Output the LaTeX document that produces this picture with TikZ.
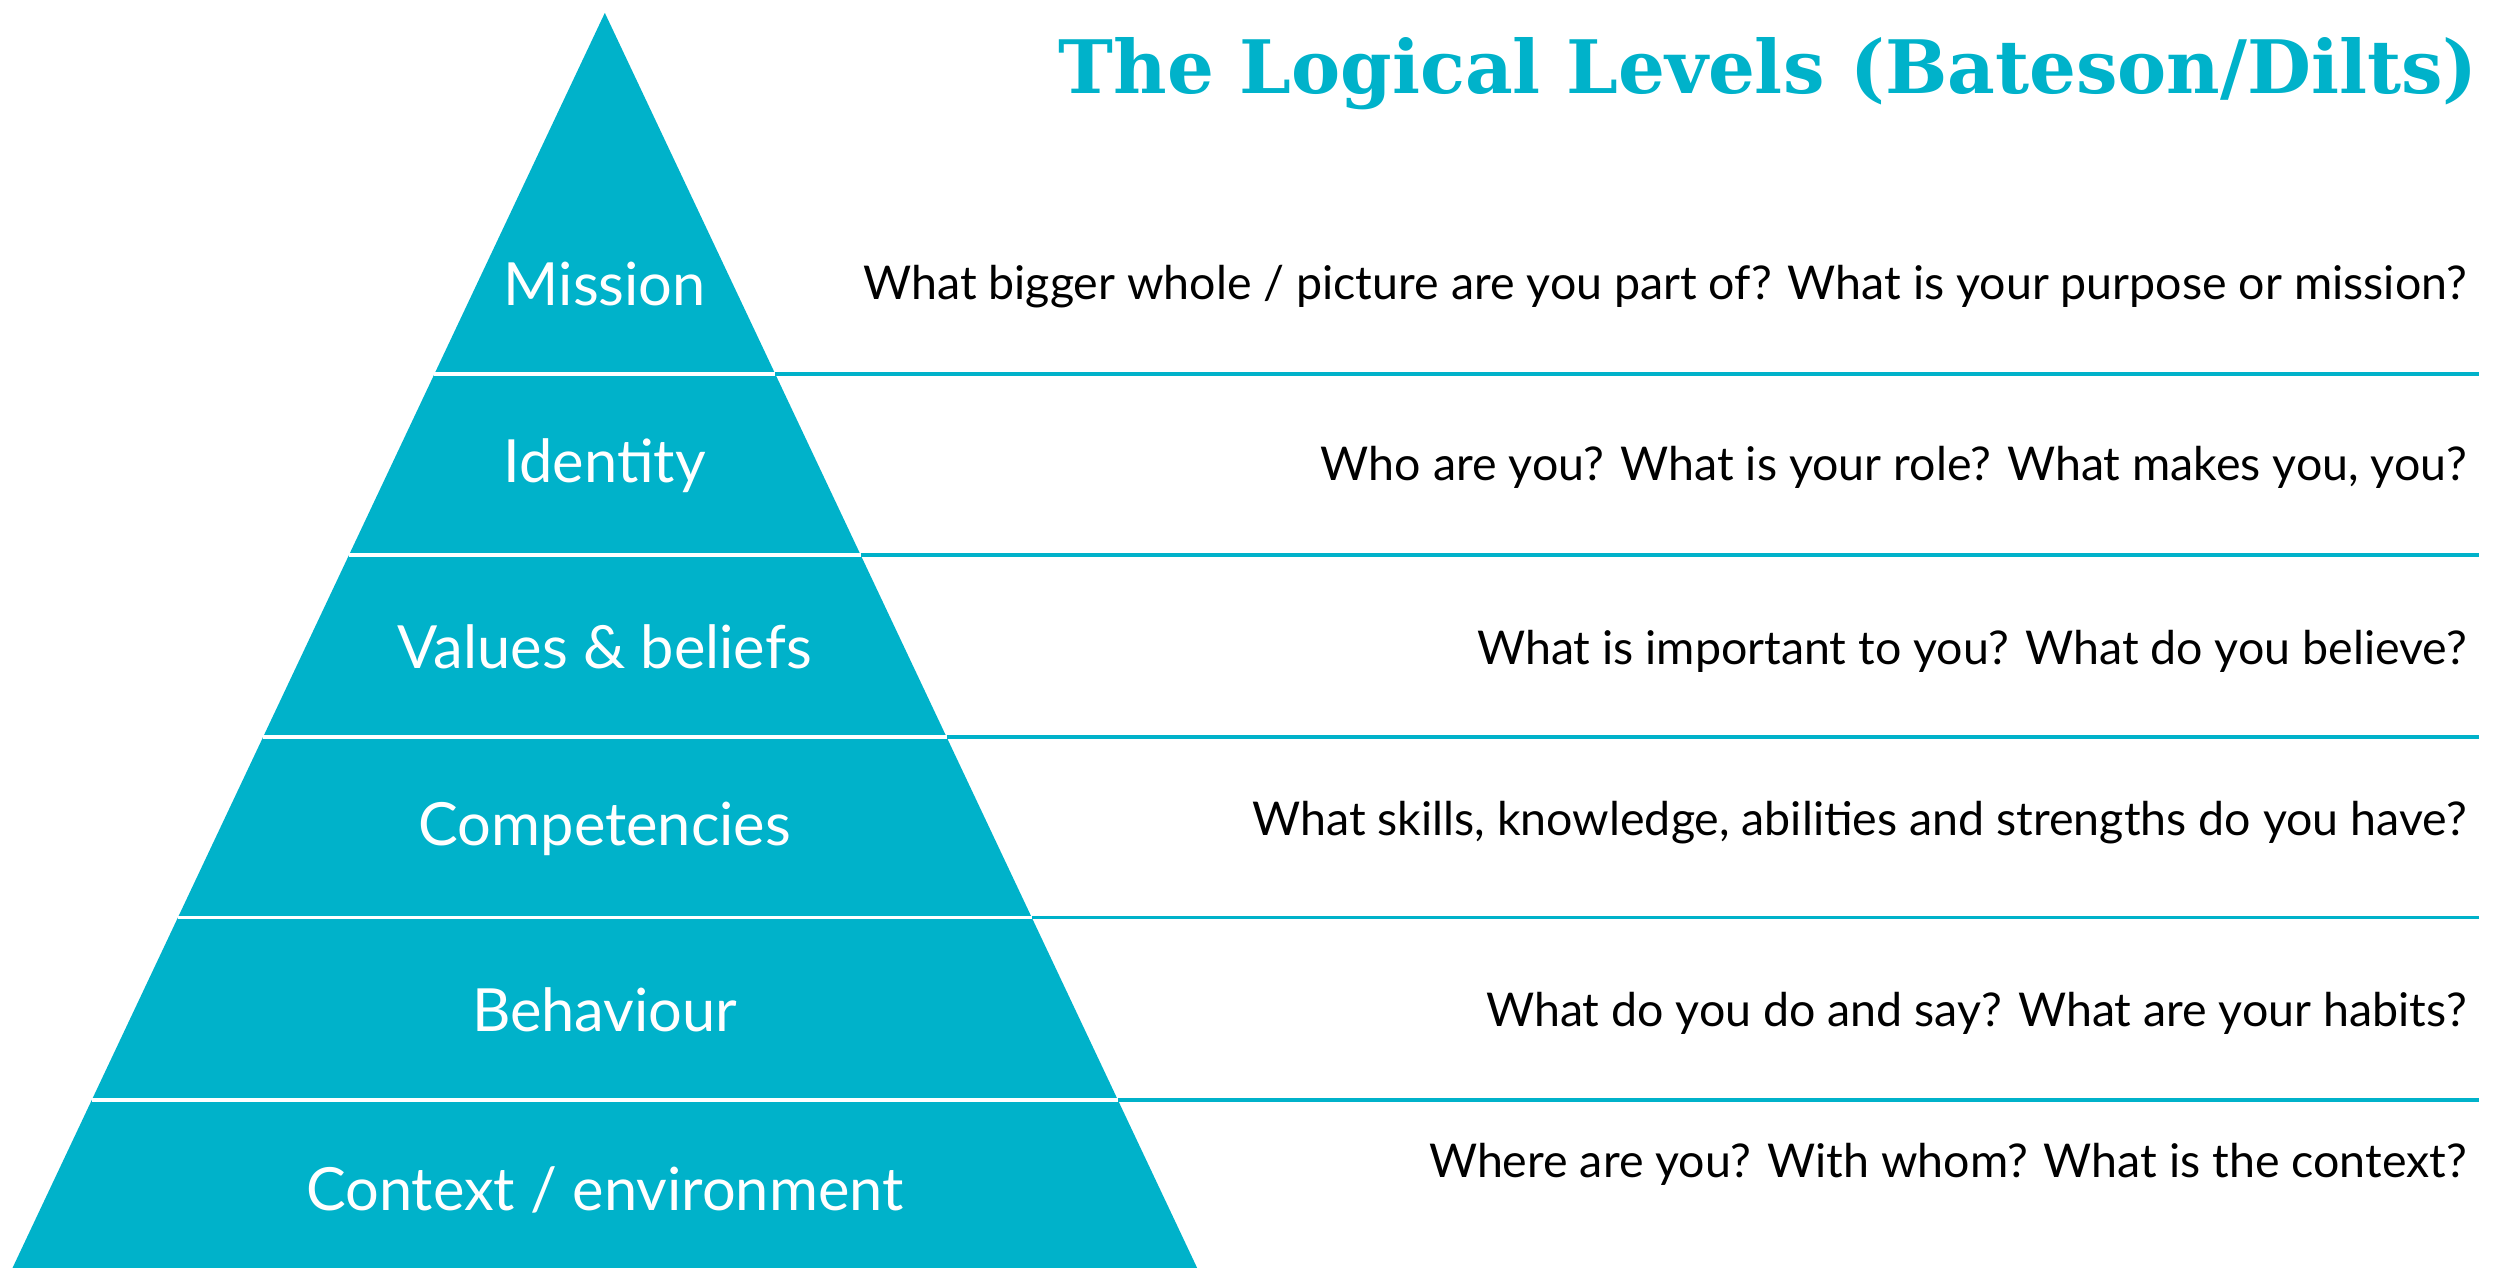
\documentclass[tikz,border=0pt]{standalone}
\usepackage{fontspec}
\setmainfont{Lato}
\newfontfamily\titlefont{DejaVu Serif}
\definecolor{teal}{HTML}{00B2CA}
\begin{document}
\begin{tikzpicture}[x=0.01cm,y=-0.01cm]
\tikzset{
	level node/.style={text=white,font=\fontsize{10.5}{12}\selectfont},
	question node/.style={anchor=east,inner sep=0,font=\fontsize{8.2}{10}\selectfont},
	band line/.style={draw=white,line width=0.6pt},
	rule line/.style={draw=teal,line width=0.6pt}
}
\useasboundingbox (0,0) rectangle (1550,786);

% pyramid
\coordinate (apex) at (375,8);
\coordinate (bl) at (5,792);
\coordinate (br) at (745,792);
\fill[teal] (apex) -- (bl) -- (br) -- cycle;

% separators
\foreach \y in {232,344,457,569,682} {
  \pgfmathsetmacro{\dx}{0.472*(\y-8)}
  \coordinate (l\y) at (375-\dx,\y);
  \coordinate (r\y) at (375+\dx,\y);
  \coordinate (e\y) at (1537,\y);
  \draw[band line] (l\y) -- (r\y);
  \draw[rule line] (r\y) -- (e\y);
}

% levels
\node[level node] (mission) at (375,176) {Mission};
\node[level node] (identity) at (375,289) {Identity};
\node[level node] (values) at (375,401) {Values \& beliefs};
\node[level node] (competencies) at (375,514) {Competencies};
\node[level node] (behaviour) at (375,626) {Behaviour};
\node[level node] (context) at (375,738) {Context / environment};

% questions
\node[question node] (qmission) at (1530,178) {What bigger whole / picture are you part of? What is your purpose or mission?};
\node[question node] (qidentity) at (1530,290) {Who are you? What is your role? What makes you, you?};
\node[question node] (qvalues) at (1530,404) {What is important to you? What do you believe?};
\node[question node] (qcompetencies) at (1530,510) {What skills, knowledge, abilities and strengths do you have?};
\node[question node] (qbehaviour) at (1530,628) {What do you do and say? What are your habits?};
\node[question node] (qcontext) at (1530,722) {Where are you? With whom? What is the context?};

\node[anchor=east,inner sep=0,text=teal,font=\titlefont\bfseries\fontsize{13}{15}\selectfont] (title) at (1537,46) {The Logical Levels (Bateson/Dilts)};
\end{tikzpicture}
\end{document}
